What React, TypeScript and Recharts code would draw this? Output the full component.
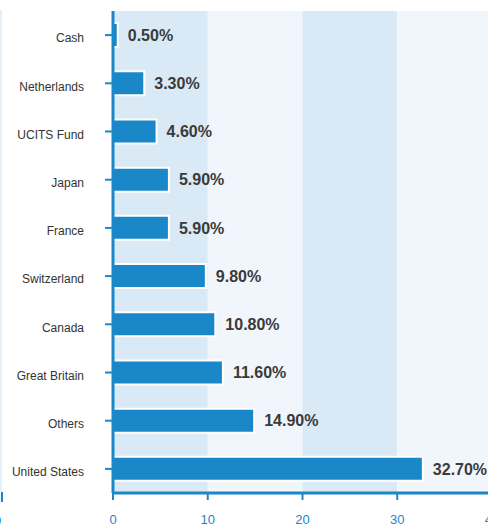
import { BarChart, Bar, XAxis, YAxis, ReferenceArea, LabelList } from 'recharts';

const categories = ['Cash', 'Netherlands', 'UCITS Fund', 'Japan', 'France', 'Switzerland', 'Canada', 'Great Britain', 'Others', 'United States'];
const weights = [0.5, 3.3, 4.6, 5.9, 5.9, 9.8, 10.8, 11.6, 14.9, 32.7];
const xTicks = [0, 10, 20, 30, 40];
const bands = [[0, 10], [10, 20], [20, 30], [30, 40]];

const BLUE = '#1a87c9';

const data = categories.map((name, i) => ({ name, value: weights[i] }));

export default function App() {
  return (
    <div style={{ position: 'fixed', left: 0, top: 0, width: 488, height: 526, overflow: 'hidden', background: '#fff', fontFamily: '"Liberation Sans", Arial, sans-serif' }}>
      {/* fragment of the neighbouring axis at the left edge */}
      <div style={{ position: 'absolute', left: 0, top: 10, width: 2, height: 482, background: '#e6f0f9' }} />
      <div style={{ position: 'absolute', left: 1, top: 492, width: 2, height: 10, background: BLUE }} />
      <div style={{ position: 'absolute', left: -6, top: 513, fontSize: 13, color: BLUE }}>0</div>
      <div style={{ position: 'absolute', left: 0, top: 0 }}>
        <BarChart
          width={500}
          height={526}
          data={data}
          layout="vertical"
          margin={{ top: 11, right: 8, left: 0, bottom: 0 }}
          barCategoryGap="25%"
        >
          {bands.map(([a, b], i) => (
            <ReferenceArea key={i} x1={a} x2={b} fill={i % 2 === 0 ? '#d9e9f5' : '#f0f6fb'} fillOpacity={1} stroke="none" ifOverflow="visible" />
          ))}
          <XAxis
            type="number"
            domain={[0, 40]}
            ticks={xTicks}
            height={33}
            axisLine={{ stroke: BLUE, strokeWidth: 3 }}
            tickLine={{ stroke: BLUE, strokeWidth: 2 }}
            tickSize={7}
            tickMargin={15}
            tick={{ fill: BLUE, fontSize: 13 }}
          />
          <YAxis
            type="category"
            dataKey="name"
            width={113}
            axisLine={{ stroke: BLUE, strokeWidth: 3 }}
            tickLine={{ stroke: BLUE, strokeWidth: 2 }}
            tickSize={8}
            tickMargin={21}
            tick={{ fill: '#333', fontSize: 12, dy: 3 }}
          />
          <Bar dataKey="value" fill={BLUE} stroke="#fff" strokeWidth={2} isAnimationActive={false}>
            <LabelList
              dataKey="value"
              position="right"
              offset={10}
              formatter={(v: number) => `${v.toFixed(2)}%`}
              style={{ fill: '#3a3a3a', fontSize: 16, fontWeight: 'bold' }}
            />
          </Bar>
        </BarChart>
      </div>
    </div>
  );
}
